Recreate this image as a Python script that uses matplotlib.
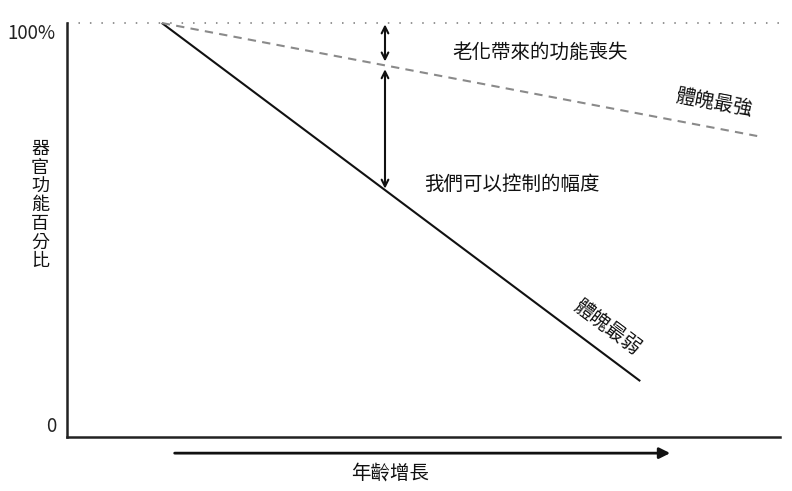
import matplotlib
matplotlib.use("Agg")
import matplotlib.pyplot as plt

plt.rcParams['font.family'] = ['Noto Sans CJK TC', 'DejaVu Sans']

# data (age on an arbitrary 0-100 scale, function in %)
age_start = 13.3
strong_x = [age_start, 96.8]
strong_y = [100, 72.7]
weak_x = [age_start, 80.4]
weak_y = [100, 13.5]
arrow_age = 44.6
ytick_vals = [0, 100]
ytick_labels = ['0', '100%']

fig = plt.figure(figsize=(7.92, 4.91), dpi=100)
W, H = 792, 491
ax = fig.add_axes([67 / W, 1 - 437 / H, (780 - 67) / W, (437 - 23) / H])
ax.set_xlim(0, 100)
ax.set_ylim(0, 100)

for s in ['top', 'right']:
    ax.spines[s].set_visible(False)
for s in ['left', 'bottom']:
    ax.spines[s].set_linewidth(1.8)
    ax.spines[s].set_color('#222222')

ax.set_xticks([])
ax.set_yticks(ytick_vals)
ax.set_yticklabels(ytick_labels, fontsize=13.5, color='#222222')
ax.tick_params(axis='y', length=0, pad=8)
lbls = ax.get_yticklabels()
lbls[0].set_va('bottom')
lbls[1].set_va('top')

# 100% dotted reference
ax.axhline(100, color='#777777', lw=1.1, ls=(0, (1, 6.5)), clip_on=False)

# lines
ax.plot(weak_x, weak_y, color='#111111', lw=1.5, solid_capstyle='butt', clip_on=False)
ax.plot(strong_x, strong_y, color='#8a8a8a', lw=1.5, ls=(0, (4, 3)), clip_on=False)

# vertical arrows
def interp(xs, ys, x):
    return ys[0] + (ys[1] - ys[0]) * (x - xs[0]) / (xs[1] - xs[0])

y_strong = interp(strong_x, strong_y, arrow_age)
y_weak = interp(weak_x, weak_y, arrow_age)
akw = dict(arrowstyle='<->', color='#111111', lw=1.5, mutation_scale=12, shrinkA=1, shrinkB=1)
ax.annotate('', xy=(arrow_age, 100), xytext=(arrow_age, y_strong + 0.6),
            arrowprops=akw, annotation_clip=False)
ax.annotate('', xy=(arrow_age, y_strong - 0.6), xytext=(arrow_age, y_weak),
            arrowprops=akw, annotation_clip=False)

# texts
tk = dict(fontsize=14, color='#111111', ha='center', va='center', fontweight='medium')
ax.text(66.3, 93.0, '老化帶來的功能喪失', **tk)
ax.text(62.4, 60.9, '我們可以控制的幅度', **tk)
ax.text(90.7, 80.7, '體魄最強', rotation=-10.6, rotation_mode='anchor', **tk)
ax.text(75.7, 26.5, '體魄最弱', rotation=-36.8, rotation_mode='anchor', **tk)

# x-axis arrow and label
ax.annotate('', xy=(84.6, -3.9), xytext=(15.1, -3.9),
            arrowprops=dict(arrowstyle='-|>', color='#111111', lw=2, mutation_scale=16,
                            shrinkA=0, shrinkB=0),
            annotation_clip=False, xycoords='data')
ax.text(45.3, -8.7, '年齡增長', clip_on=False, **tk)

# y-axis label (stacked characters)
fig.text(40 / W, 1 - 205 / H, '\n'.join('器官功能百分比'), fontsize=13, color='#111111',
         ha='center', va='center', linespacing=1.05, fontweight='medium')

fig.savefig('out.png', dpi=100)
